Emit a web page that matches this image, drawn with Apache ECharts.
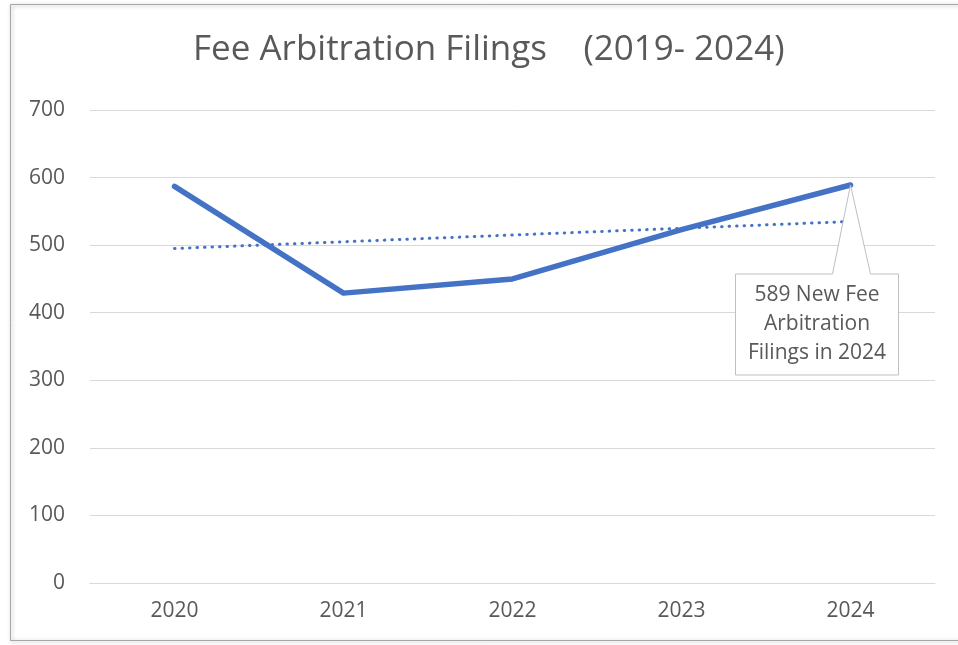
<!DOCTYPE html>
<html>
<head>
<meta charset="utf-8">
<script src="https://cdn.jsdelivr.net/npm/echarts@6/dist/echarts.min.js"></script>
<style>
  html, body { margin: 0; padding: 0; background: #fff; }
  #main { width: 958px; height: 645px; }
</style>
</head>
<body>
<div id="main"></div>
<script>
// data
var years = ['2020', '2021', '2022', '2023', '2024'];
var filings = [587, 429, 450, 523, 589];
var trend = [495, 505, 515, 525, 535];
var yTicks = [0, 100, 200, 300, 400, 500, 600, 700];
var calloutLines = ['589 New Fee', 'Arbitration', 'Filings in 2024'];

var myChart = echarts.init(document.getElementById('main'));

var option = {
    animation: false,
    backgroundColor: '#fff',
    title: {
        text: 'Fee Arbitration Filings    (2019- 2024)',
        left: 188,
        top: 28,
        textStyle: {
            fontFamily: 'Open Sans',
            fontSize: 35,
            fontWeight: 'normal',
            color: '#595959'
        }
    },
    grid: { left: 90, right: 23, top: 110, bottom: 62 },
    xAxis: {
        type: 'category',
        data: years,
        boundaryGap: true,
        axisLine: { lineStyle: { color: '#d9d9d9', width: 1 } },
        axisTick: { show: false },
        axisLabel: { color: '#595959', fontSize: 21, fontFamily: 'Open Sans', margin: 18 }
    },
    yAxis: {
        type: 'value',
        min: yTicks[0],
        max: yTicks[yTicks.length - 1],
        interval: 100,
        axisLine: { show: false },
        axisTick: { show: false },
        splitLine: { lineStyle: { color: '#d9d9d9', width: 1 } },
        axisLabel: { color: '#595959', fontSize: 21, fontFamily: 'Open Sans', margin: 25 }
    },
    series: [{
        name: 'filings',
        type: 'line',
        data: filings,
        symbol: 'none',
        lineStyle: { color: '#4472c4', width: 5.5, cap: 'round', join: 'round' },
        z: 3
    },
    {
        name: 'trend',
        type: 'line',
        data: trend,
        symbol: 'none',
        lineStyle: { color: '#4472c4', width: 3, type: [0.5, 7.0], cap: 'round' },
        z: 2
    }]
};
myChart.setOption(option);

// callout box pointing at the 2024 point
var p = myChart.convertToPixel({ seriesIndex: 0 }, [4, filings[4]]);
var bx0 = p[0] - 115, bx1 = p[0] + 48, by0 = p[1] + 89, by1 = p[1] + 190;
myChart.setOption({
    graphic: [{
        type: 'polygon',
        z: 10,
        shape: {
            points: [[bx0, by0], [p[0] - 18, by0], p, [p[0] + 20, by0], [bx1, by0], [bx1, by1], [bx0, by1]]
        },
        style: { fill: '#fff', stroke: '#bfbfbf', lineWidth: 1 }
    },
    {
        type: 'text',
        z: 11,
        x: (bx0 + bx1) / 2,
        y: (by0 + by1) / 2,
        style: {
            text: calloutLines.join('\n'),
            align: 'center',
            verticalAlign: 'middle',
            fontFamily: 'Open Sans',
            fontSize: 21,
            lineHeight: 29,
            fill: '#595959'
        }
    },
    {
        type: 'rect',
        z: 0,
        shape: { x: 10.5, y: 4.5, width: 958, height: 636 },
        style: { fill: 'none', stroke: '#a6a6a6', lineWidth: 1, shadowBlur: 4, shadowColor: 'rgba(0,0,0,0.35)', shadowOffsetX: 1, shadowOffsetY: 1 }
    }]
});
</script>
</body>
</html>
